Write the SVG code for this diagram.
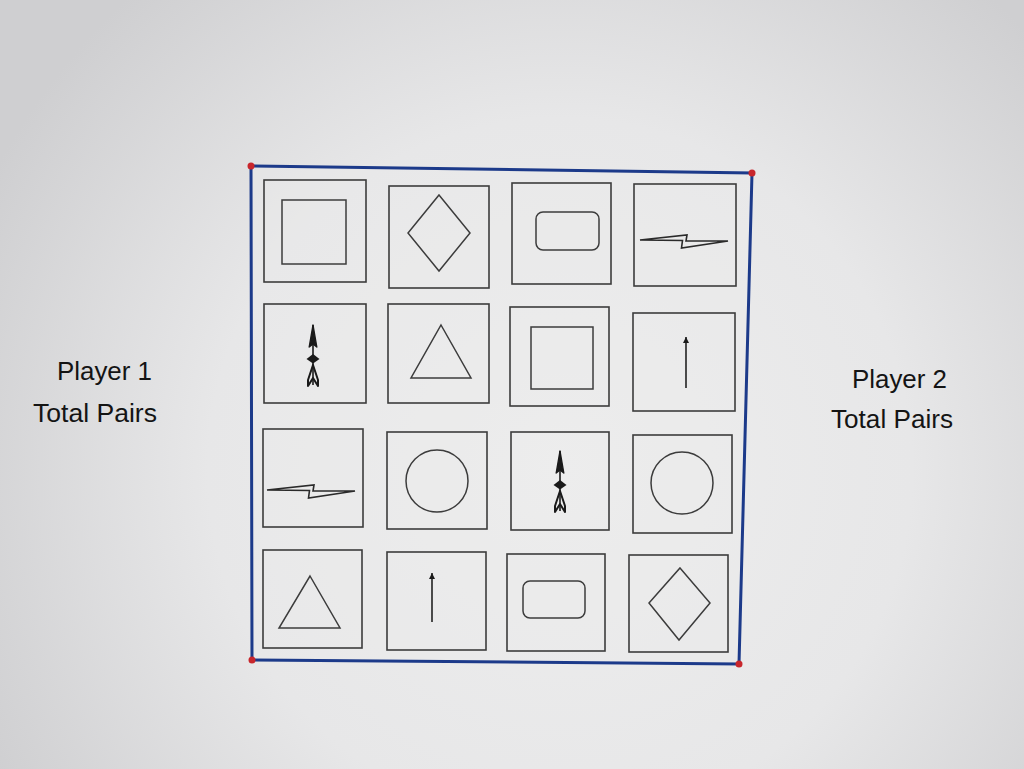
<svg xmlns="http://www.w3.org/2000/svg" xmlns:xlink="http://www.w3.org/1999/xlink" width="1024" height="769" viewBox="0 0 1024 769">
<defs>
<radialGradient id="bg" cx="560" cy="470" r="640" gradientUnits="userSpaceOnUse">
<stop offset="0" stop-color="#eeeeee"/>
<stop offset="0.55" stop-color="#e7e7e8"/>
<stop offset="1" stop-color="#cfcfd1"/>
</radialGradient>
<g id="bolt"><polygon points="0,0 47,-5 46,1 88,1 41.5,8 42.5,0.5" fill="none" stroke="#2a2a2a" stroke-width="1.6" stroke-linejoin="miter"/></g>
<g id="feather">
<line x1="0" y1="0" x2="0" y2="60" stroke="#1a1a1a" stroke-width="1.6"/>
<polygon points="0,0 -3.8,22 0,19 3.8,22" fill="#1a1a1a" stroke="#1a1a1a" stroke-width="1.4" stroke-linejoin="round"/>
<polygon points="0,29 -6.5,34 0,38.5 6.5,34" fill="#1a1a1a"/>
<path d="M0,40 L-5,55 L-5,61 L0,53 L5,61 L5,55 Z" fill="none" stroke="#1a1a1a" stroke-width="2" stroke-linejoin="round"/>
</g>
<marker id="ah" markerWidth="7" markerHeight="7" refX="6" refY="3" orient="auto" markerUnits="userSpaceOnUse"><polygon points="0,0 6,3 0,6" fill="#1a1a1a"/></marker>
</defs>
<style>
.card{fill:none;stroke:#3c3c3c;stroke-width:1.6}
.shape{fill:none;stroke:#3c3c3c;stroke-width:1.5}
.lbl{font-family:"Liberation Sans",Arial,sans-serif;font-size:25px;fill:#141414}
.stick{stroke:#222;stroke-width:1.6}
</style>
<rect width="1024" height="769" fill="url(#bg)"/>
<g id="board">
<polygon points="251,166 752,173 739,664 252,660" fill="#ececec" fill-opacity="0.4" stroke="#1c3a8a" stroke-width="3"/>
<circle cx="251" cy="166" r="3.5" fill="#c8262c"/>
<circle cx="752" cy="173" r="3.5" fill="#c8262c"/>
<circle cx="739" cy="664" r="3.5" fill="#c8262c"/>
<circle cx="252" cy="660" r="3.5" fill="#c8262c"/>
</g>
<g id="r1c1"><rect class="card" x="264" y="180" width="102" height="102"/><rect class="shape" x="282" y="200" width="64" height="64"/></g>
<g id="r1c2"><rect class="card" x="389" y="186" width="100" height="102"/><polygon class="shape" points="439,195 470,233 439,271 408,233"/></g>
<g id="r1c3"><rect class="card" x="512" y="183" width="99" height="101"/><rect class="shape" x="536" y="212" width="63" height="38" rx="7"/></g>
<g id="r1c4"><rect class="card" x="634" y="184" width="102" height="102"/><use xlink:href="#bolt" x="640" y="240"/></g>
<g id="r2c1"><rect class="card" x="264" y="304" width="102" height="99"/><use xlink:href="#feather" x="313" y="325"/></g>
<g id="r2c2"><rect class="card" x="388" y="304" width="101" height="99"/><polygon class="shape" points="441,325 471,378 411,378"/></g>
<g id="r2c3"><rect class="card" x="510" y="307" width="99" height="99"/><rect class="shape" x="531" y="327" width="62" height="62"/></g>
<g id="r2c4"><rect class="card" x="633" y="313" width="102" height="98"/><line class="stick" x1="686" y1="388" x2="686" y2="337" marker-end="url(#ah)"/></g>
<g id="r3c1"><rect class="card" x="263" y="429" width="100" height="98"/><use xlink:href="#bolt" x="267" y="490"/></g>
<g id="r3c2"><rect class="card" x="387" y="432" width="100" height="97"/><circle class="shape" cx="437" cy="481" r="31"/></g>
<g id="r3c3"><rect class="card" x="511" y="432" width="98" height="98"/><use xlink:href="#feather" x="560" y="451"/></g>
<g id="r3c4"><rect class="card" x="633" y="435" width="99" height="98"/><circle class="shape" cx="682" cy="483" r="31"/></g>
<g id="r4c1"><rect class="card" x="263" y="550" width="99" height="98"/><polygon class="shape" points="310,576 340,628 279,628"/></g>
<g id="r4c2"><rect class="card" x="387" y="552" width="99" height="98"/><line class="stick" x1="432" y1="622" x2="432" y2="573" marker-end="url(#ah)"/></g>
<g id="r4c3"><rect class="card" x="507" y="554" width="98" height="97"/><rect class="shape" x="523" y="581" width="62" height="37" rx="7"/></g>
<g id="r4c4"><rect class="card" x="629" y="555" width="99" height="97"/><polygon class="shape" points="680,568 710,603 679,640 649,603"/></g>
<g id="connectors"/>
<g id="player1">
<text class="lbl" x="57" y="380" textLength="95" lengthAdjust="spacingAndGlyphs">Player 1</text>
<text class="lbl" x="33" y="422" textLength="124" lengthAdjust="spacingAndGlyphs">Total Pairs</text>
</g>
<g id="player2">
<text class="lbl" x="852" y="388" textLength="95" lengthAdjust="spacingAndGlyphs">Player 2</text>
<text class="lbl" x="831" y="428" textLength="122" lengthAdjust="spacingAndGlyphs">Total Pairs</text>
</g>
</svg>
